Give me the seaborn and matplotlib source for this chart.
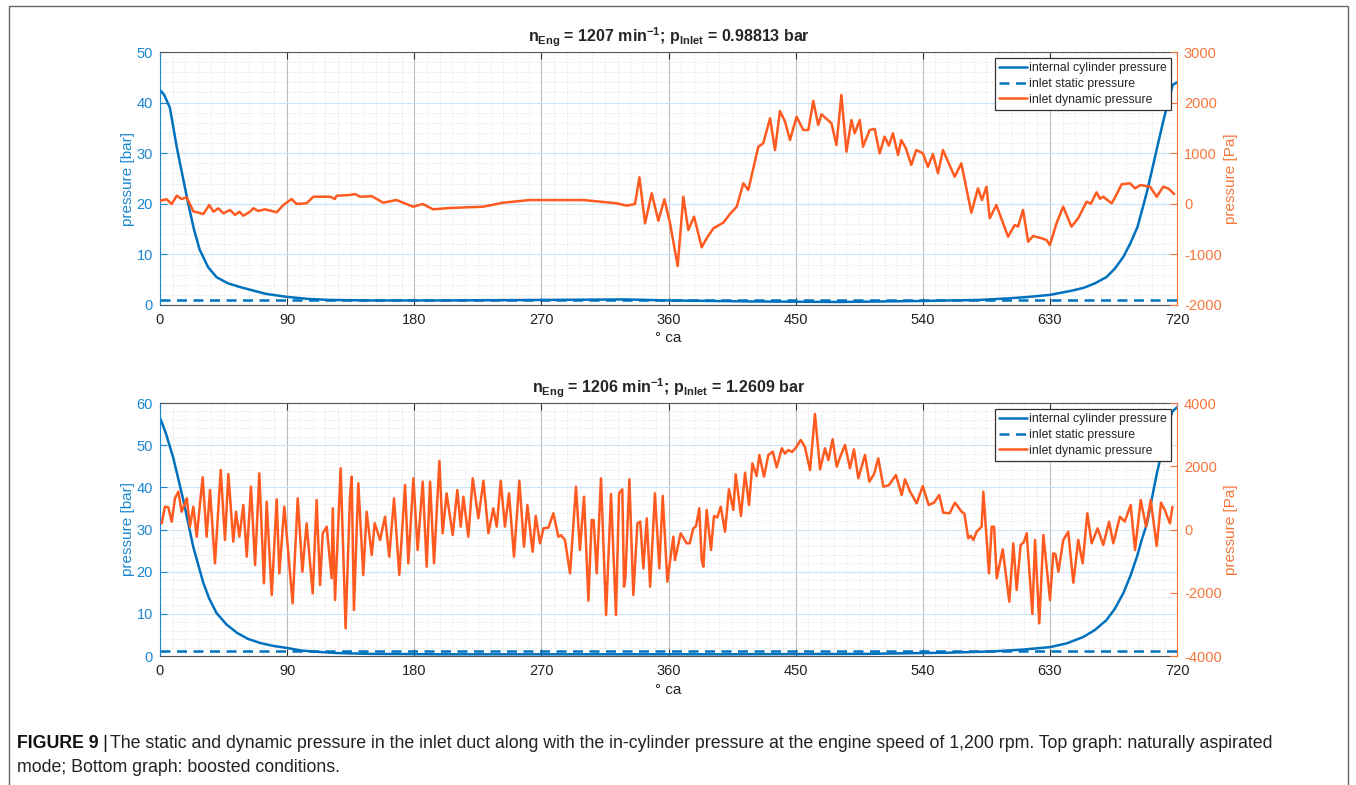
import matplotlib
matplotlib.use("Agg")
import matplotlib.pyplot as plt
import seaborn as sns
from matplotlib.ticker import MultipleLocator, FixedLocator
from matplotlib.patches import Rectangle
from matplotlib.lines import Line2D

sns.set_style("white")
plt.rcParams['font.family'] = ['Liberation Sans', 'DejaVu Sans']
plt.rcParams['mathtext.fontset'] = 'custom'
plt.rcParams['mathtext.rm'] = 'Liberation Sans'
plt.rcParams['mathtext.bf'] = 'Liberation Sans:bold'
plt.rcParams['mathtext.it'] = 'Liberation Sans:italic'
plt.rcParams['axes.unicode_minus'] = False

# ---------------- data ----------------
x_ticks = [0, 90, 180, 270, 360, 450, 540, 630, 720]
legend_labels = ["internal cylinder pressure", "inlet static pressure", "inlet dynamic pressure"]

# top panel (naturally aspirated)
top_title_speed = 1207
top_static_bar = 0.98813
top_cyl_deg = [0, 3, 7, 12, 16, 20, 24, 28, 34, 40, 48, 56, 64, 75, 90, 105, 120, 150, 200, 270,
               330, 360, 420, 480, 540, 580, 600, 615, 630, 645, 654, 662, 670, 676, 682, 687,
               692, 696, 699, 703, 706, 710, 714, 717, 720]
top_cyl_bar = [42.5, 41.5, 39, 31, 25.5, 20, 15, 11, 7.5, 5.5, 4.3, 3.6, 3.0, 2.2, 1.6, 1.2, 1.0,
               0.9, 0.9, 1.0, 1.1, 0.9, 0.7, 0.6, 0.8, 1.0, 1.3, 1.6, 2.0, 2.8, 3.4, 4.3, 5.5, 7.2,
               9.5, 12.2, 15.4, 19.5, 22.7, 27.5, 31.2, 36, 40.5, 43.5, 44]
top_dyn_deg = [0, 4.7, 8.3, 11.8, 15.3, 18.9, 23.6, 30.7, 34.9, 37.8, 41.3, 44.8, 49.6, 53.1,
               56.2, 59, 63.7, 66.1, 69.6, 74.3, 82.6, 87.3, 93.2, 96.7, 103.8, 108.6, 120.4,
               123.8, 125.1, 134.5, 138, 141.6, 150, 158, 167.4, 179.2, 186, 193.4, 205.2, 228.8,
               243, 261.9, 276, 299.7, 323.3, 330.4, 336.3, 339.4, 343.4, 348.1, 352.8, 357.1,
               361.1, 366.5, 370.5, 374, 378.1, 383.5, 387, 391.8, 398.8, 403.5, 408.3, 413,
               416.5, 423.6, 427.1, 431.9, 435.4, 438.9, 442.5, 446, 450.7, 455.4, 459, 462.5,
               466, 468.3, 471, 475.4, 478.9, 482.4, 486, 489.5, 491.8, 495.4, 497.7, 502.4,
               506, 509.5, 513, 516, 518.9, 522.5, 524.8, 528, 531.9, 535.4, 540, 543.7, 547.2,
               550.8, 554.3, 559, 562.6, 567.3, 569.5, 574.4, 579.1, 581.9, 585.1, 587.4, 592.1,
               600.4, 605.1, 607.5, 611, 614.6, 618.1, 624, 627.6, 630, 634.7, 639.4, 645.3,
               650, 656, 659, 663, 665.5, 667.8, 673.7, 676, 680.8, 686.7, 690.3, 694, 700.9,
               705.6, 710.3, 714, 718]
top_dyn_pa = [60, 89, -4, 160, 95, 128, -148, -202, -24, -156, -89, -188, -122, -221, -156,
              -235, -156, -89, -142, -109, -168, -24, 95, -4, 10, 140, 140, 95, 160, 174, 194,
              140, 150, 22, 75, -57, -4, -109, -83, -57, 22, 75, 75, 75, 10, -37, -4, 524, -386,
              208, -334, 89, -386, -1230, 140, -518, -254, -860, -682, -484, -373, -202, -57,
              405, 273, 1128, 1196, 1690, 1063, 1834, 1623, 1261, 1721, 1458, 1460, 2032, 1557,
              1768, 1700, 1590, 1162, 2150, 1030, 1656, 1393, 1656, 1128, 1458, 1480, 998,
              1327, 1150, 1393, 964, 1261, 1100, 767, 1063, 1000, 733, 984, 603, 1063, 767, 536,
              800, 500, -175, 306, 75, 338, -287, -24, -650, -419, -450, -122, -749, -636, -680,
              -715, -814, -386, -57, -452, -287, 42, 0, 227, 100, 140, 10, 120, 385, 405, 306,
              370, 338, 140, 338, 300, 194]

# bottom panel (boosted)
bot_title_speed = 1206
bot_static_bar = 1.2609
bot_cyl_deg = [0, 4, 9.4, 16.5, 23.6, 30.7, 35, 40, 47, 54.5, 62, 70.8, 80, 90, 100, 111, 125,
               150, 200, 300, 400, 500, 560, 590, 610, 630, 642, 653.6, 662, 670, 676, 682, 687,
               691.6, 695, 698.8, 702, 705.8, 709, 712, 716.5, 720]
bot_cyl_bar = [56.5, 53, 47, 37, 25.8, 17.3, 13.5, 10.2, 7.5, 5.5, 4.1, 3.1, 2.4, 1.9, 1.3, 1.0,
               0.7, 0.5, 0.4, 0.4, 0.4, 0.5, 0.8, 1.1, 1.5, 2.1, 3.0, 4.5, 6.2, 8.5, 11.2, 14.9,
               19, 23.5, 27.5, 31.5, 37, 43.4, 48, 52, 57.9, 59]
bot_dyn_deg = [1.2, 3.5, 5.9, 8.3, 10.6, 13, 15.3, 17.7, 19, 21.2, 23.6, 26, 30.2, 33, 35.4,
               38.9, 43, 46, 48.4, 51.9, 53.8, 56.2, 59, 61.4, 64.4, 67.3, 70.3, 73.6, 75.5,
               79.1, 82.6, 84.5, 88, 93.9, 97.5, 100.8, 103.8, 108.1, 110.9, 113.3, 115.2, 118,
               121.5, 122.3, 123.9, 127.9, 131.4, 134.5, 135.7, 137.3, 140.4, 143.9, 146.3,
               149.9, 152, 155.8, 159.3, 162.3, 165.7, 169.4, 173.5, 175.8, 179.4, 182.4, 186,
               188.8, 191.2, 194, 197.8, 200.1, 202.9, 207.2, 210.5, 212.9, 214.8, 218.3, 221.4,
               225.4, 229, 232.5, 236, 238.4, 241.2, 244.2, 247.1, 250.6, 254.4, 257.7, 260.1,
               263.8, 266, 269, 271.5, 275, 278.5, 282, 284, 286.7, 290.3, 294.5, 297.3, 300.2,
               303.3, 305.6, 307, 309.2, 312.2, 315.8, 319.3, 322.8, 325, 327.3, 328.5, 329.5,
               332.3, 335.1, 338, 340, 342.2, 344.6, 347, 350.4, 353.5, 355.9, 359.2, 363.4,
               364.6, 368.6, 372.9, 375, 377.6, 379.5, 381.8, 383.5, 384.7, 387, 390.1, 392.2,
               394.5, 397, 400, 402.8, 405.9, 407.6, 411.3, 414.2, 417, 419.4, 422.4, 424.3,
               427.6, 430.7, 433.8, 436.6, 440.2, 442.5, 444.8, 447.5, 450.7, 453.6, 456.5,
               460.2, 463.7, 467.3, 470.8, 473.2, 476.2, 479.1, 482, 485, 488.5, 491.3, 494.4,
               499.1, 502.2, 505.5, 508.5, 512.1, 516, 521, 525.1, 527.4, 531, 535.7, 540,
               544.2, 548, 551.7, 554.5, 559, 562.8, 567.5, 569.5, 572.2, 574, 575.8, 578.2,
               581.7, 582.9, 586.9, 588.8, 590.5, 592.4, 596.6, 601.3, 604.1, 606.5, 609.3,
               611.5, 613.6, 617.6, 619.5, 622.5, 625.4, 630.1, 632.4, 634, 636, 639.5, 643,
               646.6, 650.1, 653.2, 656.5, 659.6, 663.8, 667.8, 671.9, 674.9, 679.6, 683, 687.2,
               690.3, 694.3, 698.1, 701.4, 705.6, 708.7, 711.5, 715, 716.8]
bot_dyn_pa = [196, 721, 700, 247, 987, 1196, 563, 828, 987, 89, 721, -228, 1650, -228, 1249,
              -1070, 1882, -332, 1755, -385, 563, -228, 775, -860, 1355, -1123, 1776, -1702, 880,
              -2071, 955, -1386, 721, -2335, 987, -1333, 196, -2018, 933, -1755, -120, 89,
              -1544, 670, -2229, 1935, -3124, 1037, 1670, -2545, 1461, -1438, 563, -806, 200,
              -332, 405, -860, 987, -1438, 1407, -1070, 1619, -648, 1513, -1175, 1513, -1070,
              2166, -120, 1144, -174, 1249, 89, 1037, -228, 1619, 354, 1543, -120, 670, 89,
              1543, 89, 1144, -860, 1543, -543, 775, -702, 427, -437, 38, 60, 512, -228, -180,
              -332, -1386, 1355, -648, 1037, -2250, 300, 300, -1386, 1619, -2704, 1122, -2704,
              1144, 1270, -1808, -1500, 1587, -2071, 196, 250, -1228, 354, -1808, 1144, -1228,
              1059, -1649, -228, -966, -120, -437, -437, 38, 100, 670, -966, -1175, 617, -648,
              427, 380, 721, -69, 1270, 617, 1745, 427, 1797, 775, 2092, 1692, 2356, 1671, 2356,
              2461, 1966, 2567, 2400, 2514, 2450, 2620, 2830, 2620, 1882, 3652, 1903, 2567, 2198,
              2852, 1987, 2350, 2672, 1935, 2535, 1619, 2356, 1513, 1750, 2250, 1355, 1400,
              1723, 1091, 1587, 1200, 828, 1375, 775, 850, 1091, 532, 512, 849, 563, 500, -280,
              -200, -332, -69, 89, 1196, -1386, 89, 89, -1544, -627, -2282, -437, -1913, -490,
              -400, -120, -2672, -332, -2967, -174, -2229, -753, -780, -1333, -332, -69, -1681,
              -332, -1070, 512, -437, 38, -490, 247, -437, 405, 250, 775, -648, 933, 89, 933,
              -522, 849, 600, 196, 721]

caption_bold = "FIGURE 9"
caption_line1 = ("The static and dynamic pressure in the inlet duct along with the in-cylinder "
                 "pressure at the engine speed of 1,200 rpm. Top graph: naturally aspirated")
caption_line2 = "mode; Bottom graph: boosted conditions."

# ---------------- style ----------------
BLUE = "#0072BD"
LBLUE = "#1a87d0"
ORANGE = "#FF5A1F"
LORANGE = "#F5753A"
SPINE = "#555555"

W, H = 1356, 785
fig = plt.figure(figsize=(W / 100, H / 100), dpi=100)


def px_axes(left, top, right, bottom):
    return fig.add_axes([left / W, 1 - bottom / H, (right - left) / W, (bottom - top) / H])


def panel(ax, cyl_x, cyl_y, static, dyn_x, dyn_y, ylim_l, ylim_r, r_step, title):
    sns.lineplot(x=cyl_x, y=cyl_y, ax=ax, color=BLUE, lw=1.8, estimator=None, errorbar=None)
    sns.lineplot(x=[x_ticks[0], x_ticks[-1]], y=[static, static], ax=ax, color=BLUE, lw=1.8,
                 estimator=None, errorbar=None)
    ax.lines[-1].set_dashes([4, 2.6])
    ax.set_xlim(x_ticks[0], x_ticks[-1])
    ax.set_ylim(*ylim_l)
    ax.xaxis.set_major_locator(FixedLocator(x_ticks))
    ax.xaxis.set_minor_locator(MultipleLocator(9))
    ax.yaxis.set_major_locator(MultipleLocator(10))
    ax.yaxis.set_minor_locator(MultipleLocator(2))
    ax.grid(which='major', axis='x', color='#bdbdbd', lw=0.8, ls='-')
    ax.grid(which='major', axis='y', color='#cde3f4', lw=0.8, ls='-')
    ax.grid(which='minor', color='#dcdcdc', lw=0.6, ls=':')
    ax.set_axisbelow(True)
    ax.tick_params(axis='y', which='major', direction='in', colors=LBLUE, labelsize=10.5,
                   length=5, width=0.8, pad=5)
    ax.tick_params(axis='x', which='major', direction='in', top=True, bottom=True, length=5,
                   width=0.8, color='#333333', labelcolor='#222222', labelsize=10.5, pad=6)
    ax.tick_params(which='minor', length=0)
    for s in ('top', 'bottom'):
        ax.spines[s].set_color(SPINE)
        ax.spines[s].set_linewidth(0.8)
    ax.spines['left'].set_color(LBLUE)
    ax.spines['left'].set_linewidth(0.8)
    ax.spines['right'].set_visible(False)
    ax.set_ylabel("pressure [bar]", color=LBLUE, fontsize=11, labelpad=1)
    ax.set_xlabel("° ca", color='#222222', fontsize=11, labelpad=3)
    ax.set_title(title, fontsize=11.5, fontweight='bold', pad=7)

    ax2 = ax.twinx()
    sns.lineplot(x=dyn_x, y=dyn_y, ax=ax2, color=ORANGE, lw=1.8, estimator=None, errorbar=None)
    ax2.set_ylim(*ylim_r)
    ax2.yaxis.set_major_locator(MultipleLocator(r_step))
    ax2.tick_params(axis='y', which='major', direction='in', colors=LORANGE, labelsize=10.5,
                    length=5, width=0.8, pad=5)
    ax2.tick_params(which='minor', length=0)
    for s in ('top', 'bottom', 'left'):
        ax2.spines[s].set_visible(False)
    ax2.spines['right'].set_color(LORANGE)
    ax2.spines['right'].set_linewidth(0.8)
    ax2.set_ylabel("pressure [Pa]", color=LORANGE, fontsize=11, labelpad=2)
    ax2.set_xlim(x_ticks[0], x_ticks[-1])

    handles = [Line2D([], [], color=BLUE, lw=1.8),
               Line2D([], [], color=BLUE, lw=1.8, dashes=[4, 2.6]),
               Line2D([], [], color=ORANGE, lw=1.8)]
    leg = ax2.legend(handles, legend_labels, loc='upper right', fontsize=8.8, frameon=True,
                     fancybox=False, framealpha=1, edgecolor='#333333', labelspacing=0.3,
                     handlelength=2.3, handletextpad=0.15, borderpad=0.35, borderaxespad=0.5)
    leg.get_frame().set_linewidth(0.9)
    return ax2


ax_top = px_axes(160, 52, 1177, 305)
panel(ax_top, top_cyl_deg, top_cyl_bar, top_static_bar, top_dyn_deg, top_dyn_pa,
      (0, 50), (-2000, 3000), 1000,
      r"$\mathbf{n_{Eng}}$ = %d min$\mathbf{^{-1}}$; $\mathbf{p_{Inlet}}$ = %s bar"
      % (top_title_speed, "0.98813"))

ax_bot = px_axes(160, 403, 1177, 656)
panel(ax_bot, bot_cyl_deg, bot_cyl_bar, bot_static_bar, bot_dyn_deg, bot_dyn_pa,
      (0, 60), (-4000, 4000), 2000,
      r"$\mathbf{n_{Eng}}$ = %d min$\mathbf{^{-1}}$; $\mathbf{p_{Inlet}}$ = %s bar"
      % (bot_title_speed, "1.2609"))

# frame around the figure
fig.patches.append(Rectangle((8.5 / W, -0.05), (1348 - 8.5) / W, 1.05 - 6 / H,
                             transform=fig.transFigure, fill=False, edgecolor='#666666',
                             lw=1.0, zorder=0))

# caption
renderer = fig.canvas.get_renderer()
y1 = 1 - 743 / H
y2 = 1 - 767 / H
CAP = 12.8
t_b = fig.text(17 / W, y1, caption_bold, fontsize=CAP, fontweight='bold', va='center',
               ha='left', color='#111111')
bb = t_b.get_window_extent(renderer)
t_sep = fig.text((bb.x1 + 4) / W, y1, "|", fontsize=CAP + 1, va='center', ha='left',
                 color='#111111')
bb2 = t_sep.get_window_extent(renderer)
fig.text((bb2.x1 + 2) / W, y1, caption_line1, fontsize=CAP, va='center', ha='left',
         color='#222222')
fig.text(17 / W, y2, caption_line2, fontsize=CAP, va='center', ha='left', color='#222222')

fig.savefig("out.png", dpi=100)
